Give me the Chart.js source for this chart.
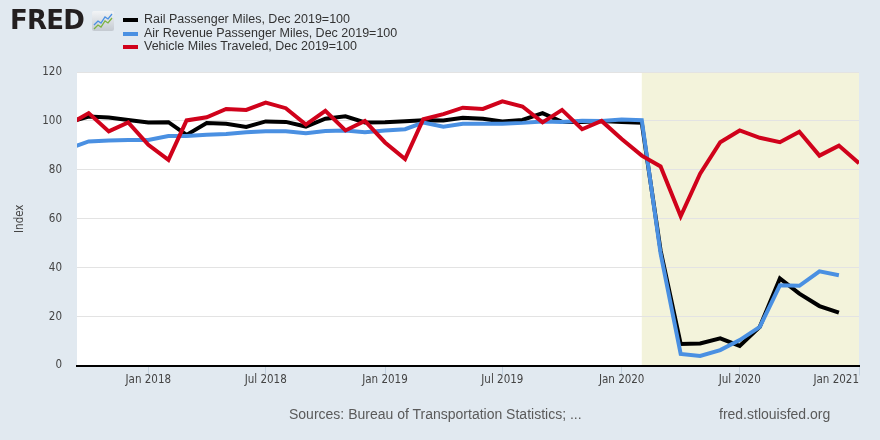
<!DOCTYPE html>
<html>
<head>
<meta charset="utf-8">
<script src="https://cdn.jsdelivr.net/npm/chart.js@4.4.1/dist/chart.umd.min.js"></script>
<style>
  html, body { margin: 0; padding: 0; background: #e1e9f0; }
  #wrap { position: relative; width: 880px; height: 440px; overflow: hidden; background: #e1e9f0; font-family: "Liberation Sans", Arial, sans-serif; }
  #chart { position: absolute; left: 0; top: 0; }
  #logo { position: absolute; left: 10px; top: 7px; font-family: "DejaVu Sans", sans-serif; font-size: 26px; line-height: 27px; font-weight: bold; color: #231f20; letter-spacing: -0.8px; }
  #icon { position: absolute; left: 92px; top: 11px; }
  .row { position: absolute; left: 144px; font-size: 12.5px; line-height: 13.5px; color: #333; white-space: nowrap; }
  .swatch { position: absolute; left: -21px; top: 5px; width: 15px; height: 4px; }
  .foot { position: absolute; top: 405px; font-family: "Liberation Sans", Arial, sans-serif; font-size: 14px; line-height: 18px; color: #5a5a5a; white-space: nowrap; }
</style>
</head>
<body>
<div id="wrap">
  <canvas id="chart" width="880" height="440"></canvas>
  <div id="logo">FRED</div>
  <svg id="icon" width="22" height="20">
    <defs><linearGradient id="g" x1="0" y1="0" x2="0" y2="1"><stop offset="0" stop-color="#f2f4f6"/><stop offset="1" stop-color="#c4cad1"/></linearGradient></defs>
    <rect x="0" y="0" width="22" height="20" rx="2" fill="url(#g)"/>
    <polyline points="2,14 6,10 9,12 13,6 16,8 20,3" fill="none" stroke="#4a90e2" stroke-width="1.3"/>
    <polyline points="2,18 6,14 9,16 13,10 16,12 20,7" fill="none" stroke="#7cb342" stroke-width="1.3"/>
  </svg>
  <div id="legend"></div>
  <div class="foot" style="left:289px">Sources: Bureau of Transportation Statistics; ...</div>
  <div class="foot" style="left:719px">fred.stlouisfed.org</div>
</div>
<script>
// monthly observations, first of month
const months = [
  '2017-09', '2017-10', '2017-11', '2017-12',
  '2018-01', '2018-02', '2018-03', '2018-04', '2018-05', '2018-06',
  '2018-07', '2018-08', '2018-09', '2018-10', '2018-11', '2018-12',
  '2019-01', '2019-02', '2019-03', '2019-04', '2019-05', '2019-06',
  '2019-07', '2019-08', '2019-09', '2019-10', '2019-11', '2019-12',
  '2020-01', '2020-02', '2020-03', '2020-04', '2020-05', '2020-06',
  '2020-07', '2020-08', '2020-09', '2020-10', '2020-11', '2020-12',
  '2021-01'
];

const railValues = [
  99.5, 101.8, 101.4, 100.4,
  99.4, 99.5, 94.3, 99.1, 98.8, 97.5,
  99.8, 99.6, 97.7, 100.9, 101.9, 99.4,
  99.5, 99.9, 100.3, 100.2, 101.3, 100.9,
  99.8, 100.4, 103.2, 99.6, 99.6, 100,
  99.6, 99.2, 47.1, 8.8, 9.0, 11.1,
  8.0, 15.8, 35.6, 29.4, 24.3, 21.6
];

const airValues = [
  88.8, 91.6, 92.0, 92.2,
  92.2, 93.8, 93.8, 94.3, 94.7, 95.4,
  95.8, 95.8, 95.0, 95.9, 96.1, 95.4,
  96.1, 96.6, 99.3, 97.6, 98.8, 98.8,
  98.8, 99.2, 99.8, 99.6, 100.1, 100,
  100.6, 100.3, 45.8, 4.7, 3.9, 6.3,
  10.4, 15.8, 32.8, 32.6, 38.5, 36.9
];

const vmtValues = [
  98.6, 103.2, 95.7, 99.4,
  90.2, 84.1, 100.2, 101.5, 104.9, 104.5,
  107.5, 105.2, 98.5, 104.1, 96.1, 100.0,
  91.2, 84.4, 100.7, 102.8, 105.4, 104.9,
  108.0, 105.9, 99.4, 104.5, 96.6, 100,
  92.6, 85.8, 81.4, 61.0, 78.4, 91.3,
  96.1, 93.1, 91.3, 95.6, 85.8, 89.9,
  82.7
];

const seriesNames = [
  'Rail Passenger Miles, Dec 2019=100',
  'Air Revenue Passenger Miles, Dec 2019=100',
  'Vehicle Miles Traveled, Dec 2019=100'
];
const seriesColors = ['#000000', '#4a90e2', '#d0021b'];

const xTickDates = ['2018-01', '2018-07', '2019-01', '2019-07', '2020-01', '2020-07', '2021-01'];
const yTicks = [0, 20, 40, 60, 80, 100, 120];
const recessionStart = ['2020-02'];
const recessionEnd = ['2021-01'];
const monthNames = ['Jan', 'Feb', 'Mar', 'Apr', 'May', 'Jun', 'Jul', 'Aug', 'Sep', 'Oct', 'Nov', 'Dec'];

function toTime(s, day) {
  const [y, m] = s.split('-').map(Number);
  return Date.UTC(y, m - 1, day || 1);
}

function toPoints(values) {
  return values.map((v, i) => ({ x: toTime(months[i]), y: v }));
}

const xMin = toTime('2017-09', 13);
const xMax = toTime('2021-01');

// html legend
const legend = document.getElementById('legend');
seriesNames.forEach((name, i) => {
  const row = document.createElement('div');
  row.className = 'row';
  row.style.top = (13.2 + i * 13.5) + 'px';
  row.textContent = name;
  const sw = document.createElement('span');
  sw.className = 'swatch';
  sw.style.background = seriesColors[i];
  row.appendChild(sw);
  legend.appendChild(row);
});

// white plot area + recession shading, drawn under the grid
const plotBackground = {
  id: 'plotBackground',
  beforeDraw(chart) {
    const { ctx, chartArea: a, scales: { x } } = chart;
    ctx.save();
    ctx.fillStyle = '#ffffff';
    ctx.fillRect(a.left, a.top, a.right - a.left, a.bottom - a.top);
    ctx.fillStyle = '#f3f3db';
    recessionStart.forEach((s, i) => {
      const x0 = Math.max(a.left, x.getPixelForValue(toTime(s)));
      const x1 = Math.min(a.right, x.getPixelForValue(toTime(recessionEnd[i])));
      ctx.fillRect(x0, a.top, x1 - x0, a.bottom - a.top);
    });
    ctx.restore();
  }
};

const tickFont = { family: '"DejaVu Sans Condensed", "Liberation Sans", sans-serif', size: 11.5 };

const ctx = document.getElementById('chart').getContext('2d');
new Chart(ctx, {
  type: 'line',
  data: {
    datasets: [
      { label: seriesNames[2], data: toPoints(vmtValues), borderColor: seriesColors[2], order: 0 },
      { label: seriesNames[1], data: toPoints(airValues), borderColor: seriesColors[1], order: 1 },
      { label: seriesNames[0], data: toPoints(railValues), borderColor: seriesColors[0], order: 2 }
    ]
  },
  options: {
    responsive: false,
    animation: false,
    devicePixelRatio: 1,
    layout: { padding: { top: 72, right: 21, left: 0, bottom: 0 } },
    datasets: { line: { clip: 0 } },
    elements: {
      point: { radius: 0 },
      line: { borderWidth: 4, tension: 0, fill: false }
    },
    plugins: { legend: { display: false }, tooltip: { enabled: false } },
    scales: {
      x: {
        type: 'linear',
        min: xMin,
        max: xMax,
        // a blank tick at the left edge so 'inner' alignment only pulls in the last label
        afterBuildTicks: (scale) => {
          scale.ticks = [{ value: xMin }].concat(xTickDates.map(d => ({ value: toTime(d) })));
        },
        afterFit: (scale) => { scale.height = 74.5; },
        grid: {
          drawOnChartArea: false,
          tickLength: 10,
          color: (c) => (c.tick && c.tick.value === xMin ? 'rgba(0,0,0,0)' : '#c3d1de')
        },
        border: { color: '#000000', width: 2, z: 1 },
        ticks: {
          autoSkip: false,
          maxRotation: 0,
          align: 'inner',
          padding: -2,
          color: '#444',
          font: tickFont,
          callback: (v) => {
            if (v === xMin) return '';
            const d = new Date(v);
            return monthNames[d.getUTCMonth()] + ' ' + d.getUTCFullYear();
          }
        }
      },
      y: {
        min: 0,
        max: 120,
        afterBuildTicks: (scale) => { scale.ticks = yTicks.map(v => ({ value: v })); },
        afterFit: (scale) => { scale.width = 77; },
        grid: { color: '#e3e3e3', drawTicks: false },
        border: { display: false },
        ticks: { padding: 15, color: '#444', font: tickFont },
        title: {
          display: true,
          text: 'Index',
          color: '#444',
          padding: { top: 13, bottom: 0 },
          font: tickFont
        }
      }
    }
  },
  plugins: [plotBackground]
});
</script>
</body>
</html>
